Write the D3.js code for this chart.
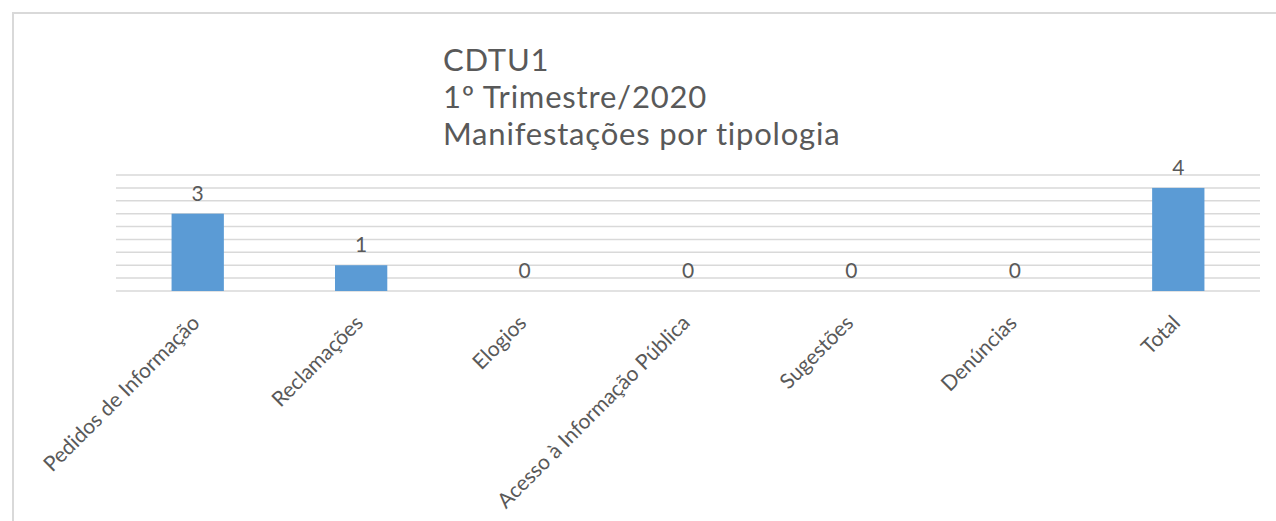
<!DOCTYPE html>
<html lang="pt">
    <head>
        <meta charset="utf-8">
        <title>CDTU1</title>
        <script src="https://d3js.org/d3.v7.min.js"></script>
        <style>
            body { margin: 0; background: #fff; }
            text { font-family: Lato, "Open Sans", sans-serif; fill: #595959; }
        </style>
    </head>
    <body>
        <script type="text/javascript">

        var w = 1276;
        var h = 521;

        // chart data
        var categories = ["Pedidos de Informação", "Reclamações", "Elogios",
                          "Acesso à Informação Pública", "Sugestões", "Denúncias", "Total"];
        var values = [3, 1, 0, 0, 0, 0, 4];
        var titleLines = ["CDTU1", "1º Trimestre/2020", "Manifestações por tipologia"];
        var gridTicks = [0, 0.5, 1, 1.5, 2, 2.5, 3, 3.5, 4, 4.5];

        var data = categories.map(function(c, i) { return {cat: c, val: values[i]}; });

        var svg = d3.select("body")
                    .append("svg")
                    .attr("width", w)
                    .attr("height", h);

        // outer chart frame (runs off the right and bottom edges)
        svg.append("rect")
           .attr("x", 13).attr("y", 13)
           .attr("width", w).attr("height", h)
           .attr("fill", "none")
           .attr("stroke", "#d9d9d9")
           .attr("stroke-width", 2);

        var xScale = d3.scaleBand()
                       .domain(categories)
                       .range([116, 1260]);
        var yScale = d3.scaleLinear()
                       .domain([0, 4.5])
                       .range([291, 175]);

        // gridlines
        svg.selectAll("line.grid")
           .data(gridTicks)
           .enter()
           .append("line")
           .attr("class", "grid")
           .attr("x1", 116).attr("x2", 1260)
           .attr("y1", function(d) { return yScale(d); })
           .attr("y2", function(d) { return yScale(d); })
           .attr("stroke", "#d9d9d9")
           .attr("stroke-width", 1.5);

        var bw = xScale.bandwidth() * 0.32;

        svg.selectAll("rect.bar")
           .data(data)
           .enter()
           .append("rect")
           .attr("class", "bar")
           .attr("x", function(d) { return xScale(d.cat) + xScale.bandwidth() / 2 - bw / 2; })
           .attr("y", function(d) { return yScale(d.val); })
           .attr("width", bw)
           .attr("height", function(d) { return yScale(0) - yScale(d.val); })
           .attr("fill", "#5b9bd5");

        // value labels
        svg.selectAll("text.val")
           .data(data)
           .enter()
           .append("text")
           .attr("class", "val")
           .attr("x", function(d) { return xScale(d.cat) + xScale.bandwidth() / 2; })
           .attr("y", function(d) { return yScale(d.val) - 13; })
           .attr("text-anchor", "middle")
           .style("font-size", "21px")
           .text(function(d) { return d.val; });

        // category labels, rotated -45
        svg.selectAll("text.cat")
           .data(data)
           .enter()
           .append("text")
           .attr("class", "cat")
           .attr("transform", function(d) {
             var cx = xScale(d.cat) + xScale.bandwidth() / 2 - 2;
             return "translate(" + cx + ",319) rotate(-45)";
           })
           .attr("text-anchor", "end")
           .attr("dy", "0.35em")
           .style("font-size", "21px")
           .text(function(d) { return d.cat; });

        // title
        svg.selectAll("text.title")
           .data(titleLines)
           .enter()
           .append("text")
           .attr("class", "title")
           .attr("x", 443)
           .attr("y", function(d, i) { return 71 + i * 37; })
           .style("font-size", "31px")
           .style("letter-spacing", "0.8px")
           .text(function(d) { return d; });

        </script>
    </body>
</html>
